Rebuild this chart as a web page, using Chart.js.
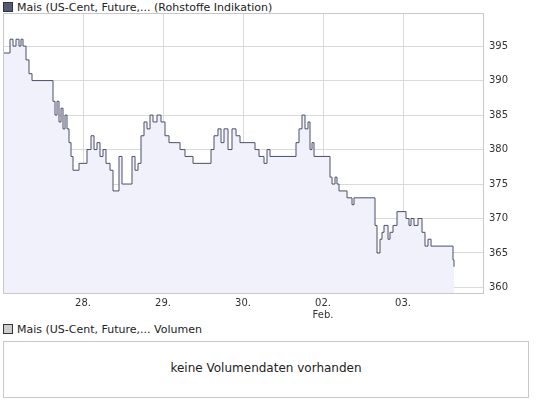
<!DOCTYPE html>
<html><head><meta charset="utf-8">
<script src="https://cdn.jsdelivr.net/npm/chart.js@4"></script>
<style>
body{margin:0;background:#fff;font-family:"DejaVu Sans",Verdana,sans-serif;font-size:11px;color:#222;}
#wrap{position:relative;width:545px;height:407px;}
.lg{position:absolute;left:3px;font-size:11px;}
.lg span{display:inline-block;width:8px;height:8px;border:1px solid #333;margin-right:4px;vertical-align:-1px;}
#vol{position:absolute;left:3px;top:341px;width:524px;height:55px;border:1px solid #c8c8c8;text-align:center;line-height:52px;font-size:12px;}
</style></head><body>
<div id="wrap">
<div class="lg" style="top:1px"><span style="background:#555a78"></span>Mais (US-Cent, Future,... (Rohstoffe Indikation)</div>
<canvas id="c" style="position:absolute;left:0;top:0"></canvas>
<div class="lg" style="top:323px"><span style="background:#ccc"></span>Mais (US-Cent, Future,... Volumen</div>
<div id="vol">keine Volumendaten vorhanden</div>
</div>
<script>
const hours=[0,2.1,3,3.9,4.8,5.4,6,6.9,7.8,8.7,14.4,15,15.6,16.2,16.8,17.4,18,18.6,19.2,19.8,20.4,21,22.8,25.2,26.4,27.3,28.2,29.1,30,30.9,32.1,33,34.8,35.7,38.7,39.6,40.5,41.4,42.3,43.2,44.1,45,46.2,47.4,48.6,49.8,53.1,54.6,57,62.4,63.3,64.5,65.4,66.3,67.5,68.7,69.9,71.1,74.1,75.6,76.8,78.3,79.2,80.1,87,87.9,88.8,89.7,90.6,91.5,92.1,92.7,93.3,97.2,98.1,98.7,99.6,100.2,100.8,103.2,104.7,105.3,110.7,111.6,112.2,113.1,113.7,114.3,115.5,116.1,117,118.2,120.9,121.8,122.4,123.3,124.5,125.7,126.6,127.5,128.4,134.7,135,135.3];
const prices=[394,396,395,396,395,396,395,393,391,390,390,387,385,387,384,386,383,385,383,381,379,377,378,380,382,380,381,379,380,378,377,374,379,375,379,377,378,382,384,383,385,384,385,384,382,381,380,379,378,380,382,383,381,383,380,383,382,381,381,380,379,378,380,379,379,381,383,385,383,384,380,381,379,379,376,375,376,375,374,373,372,373,373,369,365,367,368,369,367,368,369,371,370,369,370,369,370,368,366,367,366,366,364,363];
const tickHours=[24,48,72,96,120];
const tickLabels=['28.','29.','30.',['02.','Feb.'],'03.'];
const yTicks=[360,365,370,375,380,385,390,395];
const c=document.getElementById('c');c.width=545;c.height=320;
const border={id:'bd',afterDraw(ch){const a=ch.chartArea,x=ch.ctx;x.save();x.strokeStyle='#c8c8c8';x.lineWidth=1;x.strokeRect(a.left+.5,a.top+.5,a.width,a.height);x.restore();}};
new Chart(c,{type:'line',
data:{datasets:[{data:hours.map((h,i)=>({x:h,y:prices[i]})),stepped:true,borderColor:'#4b4f6b',borderWidth:1,pointRadius:0,fill:'start',backgroundColor:'#f1f1fb'}]},
options:{responsive:false,animation:false,layout:{padding:{left:3,top:13,right:0,bottom:0}},
plugins:{legend:{display:false},tooltip:{enabled:false}},
scales:{
x:{type:'linear',min:0,max:144,afterBuildTicks(s){s.ticks=tickHours.map(v=>({value:v}));},
 afterFit(s){s.height=27;},
 grid:{color:'#dadada',drawTicks:false},border:{display:false},
 ticks:{padding:4,maxRotation:0,autoSkip:false,color:'#333',font:{family:'DejaVu Sans',size:10},callback:(v)=>tickLabels[tickHours.indexOf(v)]}},
y:{position:'right',min:359.2,max:399.8,afterBuildTicks(s){s.ticks=yTicks.map(v=>({value:v}));},
 afterFit(s){s.width=62;},
 grid:{color:'#dadada',drawTicks:false},border:{display:false},
 ticks:{padding:6,color:'#333',font:{family:'DejaVu Sans',size:10}}}}},
plugins:[border]});
</script></body></html>
